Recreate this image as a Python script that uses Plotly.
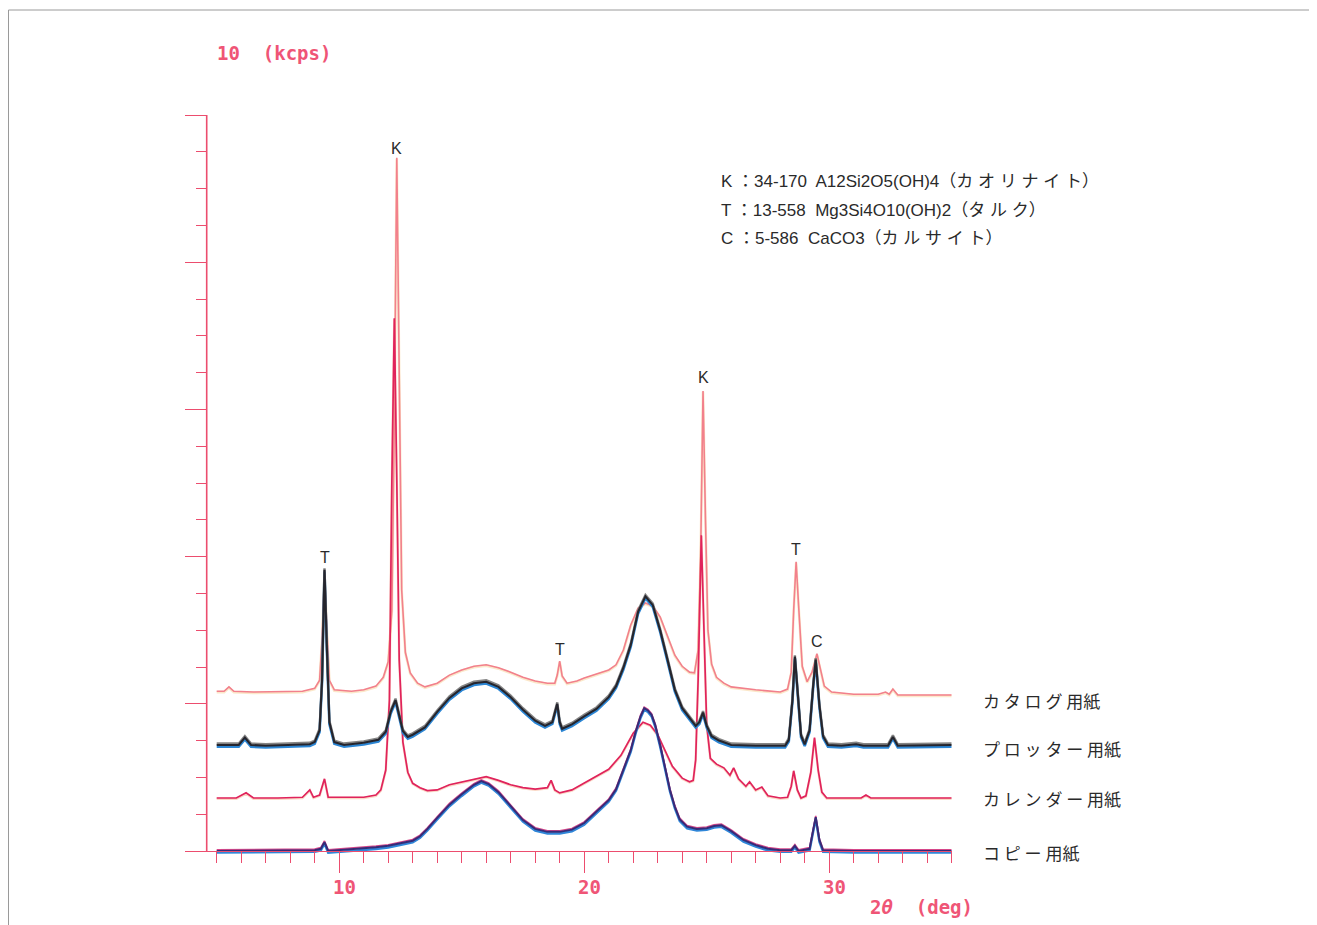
import plotly.graph_objects as go

# page body has an 8px margin in the browser; the figure is sized/placed to compensate
OFF = 8
W, H = 1317 - OFF, 925 - OFF

# ---------------- data: 2θ (deg) and intensity (kcps, as plotted, stacked) ----------------
catalog_x = [5.0, 5.3, 5.5, 5.7, 6.5, 7.5, 8.5, 9.0, 9.2, 9.3,
             9.4, 9.5, 9.6, 9.8, 10.5, 11.0, 11.5, 11.8, 12.0, 12.15,
             12.25, 12.35, 12.45, 12.55, 12.7, 12.9, 13.2, 13.5, 14.0, 14.5,
             15.0, 15.5, 16.0, 16.5, 17.0, 17.5, 18.0, 18.5, 18.8, 18.9,
             19.0, 19.1, 19.3, 19.7, 20.0, 20.5, 21.0, 21.3, 21.6, 21.9,
             22.2, 22.5, 22.8, 23.1, 23.4, 23.7, 24.0, 24.3, 24.5, 24.65,
             24.75, 24.85, 24.95, 25.05, 25.2, 25.4, 25.7, 26.0, 27.0, 28.0,
             28.3, 28.45, 28.55, 28.65, 28.75, 28.9, 29.1, 29.3, 29.5, 29.65,
             29.8, 30.1, 31.0, 32.0, 32.3, 32.45, 32.6, 32.8, 34.0, 35.0]
catalog_y = [2.17, 2.17, 2.23, 2.17, 2.16, 2.17, 2.17, 2.21, 2.32, 2.87,
             3.79, 3.00, 2.32, 2.19, 2.17, 2.19, 2.24, 2.36, 2.57, 3.27,
             5.86, 9.42, 6.40, 3.55, 2.70, 2.42, 2.28, 2.23, 2.28, 2.39,
             2.46, 2.51, 2.53, 2.49, 2.43, 2.36, 2.31, 2.28, 2.28, 2.39,
             2.58, 2.38, 2.28, 2.31, 2.35, 2.40, 2.46, 2.53, 2.73, 3.07,
             3.30, 3.37, 3.33, 3.18, 2.91, 2.66, 2.51, 2.43, 2.42, 2.73,
             3.95, 6.25, 4.50, 3.00, 2.54, 2.36, 2.28, 2.23, 2.19, 2.16,
             2.20, 2.43, 3.27, 3.93, 3.34, 2.51, 2.30, 2.43, 2.68, 2.46,
             2.24, 2.16, 2.13, 2.13, 2.16, 2.13, 2.20, 2.12, 2.12, 2.12]

plotter_x = [5.0, 5.5, 5.9, 6.15, 6.4, 7.0, 8.0, 8.8, 9.0, 9.2,
             9.3, 9.4, 9.5, 9.6, 9.8, 10.2, 11.0, 11.6, 11.9, 12.1,
             12.3, 12.45, 12.6, 12.8, 13.0, 13.5, 14.0, 14.5, 15.0, 15.5,
             16.0, 16.5, 17.0, 17.5, 18.0, 18.4, 18.7, 18.9, 19.0, 19.1,
             19.5, 20.0, 20.5, 21.0, 21.3, 21.6, 21.9, 22.2, 22.5, 22.8,
             23.1, 23.4, 23.7, 24.0, 24.3, 24.55, 24.7, 24.85, 25.0, 25.2,
             25.5, 26.0, 27.0, 28.2, 28.35, 28.5, 28.6, 28.7, 28.85, 29.0,
             29.2, 29.35, 29.45, 29.6, 29.75, 29.95, 30.5, 31.1, 31.4, 32.4,
             32.6, 32.8, 34.0, 35.0]
plotter_y = [1.44, 1.44, 1.44, 1.54, 1.44, 1.43, 1.44, 1.45, 1.48, 1.64,
             2.32, 3.82, 2.73, 1.75, 1.48, 1.44, 1.47, 1.51, 1.62, 1.89,
             2.05, 1.86, 1.63, 1.55, 1.58, 1.68, 1.89, 2.08, 2.21, 2.28,
             2.30, 2.23, 2.09, 1.92, 1.77, 1.70, 1.75, 2.00, 1.75, 1.66,
             1.72, 1.83, 1.93, 2.09, 2.24, 2.49, 2.80, 3.25, 3.46, 3.34,
             3.00, 2.60, 2.19, 1.94, 1.81, 1.70, 1.75, 1.88, 1.70, 1.56,
             1.50, 1.44, 1.43, 1.43, 1.51, 2.05, 2.64, 2.19, 1.57, 1.45,
             1.64, 2.26, 2.60, 1.98, 1.56, 1.44, 1.43, 1.45, 1.43, 1.43,
             1.55, 1.43, 1.44, 1.44]

calendar_x = [5.0, 5.8, 6.2, 6.5, 7.5, 8.5, 8.8, 8.95, 9.2, 9.4,
              9.55, 10.0, 11.0, 11.5, 11.7, 11.9, 12.05, 12.15, 12.25, 12.35,
              12.45, 12.6, 12.8, 13.0, 13.3, 13.6, 14.0, 14.5, 15.0, 15.5,
              16.0, 16.5, 17.0, 17.5, 18.0, 18.5, 18.65, 18.8, 19.0, 19.5,
              20.0, 20.5, 21.0, 21.5, 22.0, 22.4, 22.7, 23.0, 23.3, 23.6,
              24.0, 24.3, 24.45, 24.55, 24.65, 24.78, 24.9, 25.0, 25.15, 25.4,
              25.7, 25.95, 26.1, 26.3, 26.6, 26.75, 27.0, 27.25, 27.5, 28.0,
              28.3, 28.45, 28.55, 28.7, 28.85, 29.05, 29.25, 29.4, 29.55, 29.7,
              29.9, 31.3, 31.5, 31.7, 35.0]
calendar_y = [0.72, 0.72, 0.79, 0.72, 0.72, 0.73, 0.83, 0.73, 0.76, 0.98,
              0.73, 0.73, 0.73, 0.76, 0.83, 1.10, 2.05, 5.04, 7.24, 5.04,
              2.60, 1.48, 1.07, 0.92, 0.86, 0.82, 0.83, 0.90, 0.94, 0.98,
              1.01, 0.96, 0.90, 0.86, 0.84, 0.86, 0.96, 0.83, 0.79, 0.83,
              0.92, 1.02, 1.11, 1.30, 1.60, 1.75, 1.71, 1.58, 1.37, 1.15,
              0.99, 0.94, 0.96, 1.24, 2.32, 4.29, 2.87, 1.71, 1.26, 1.18,
              1.13, 1.03, 1.13, 0.98, 0.88, 0.94, 0.83, 0.87, 0.75, 0.72,
              0.73, 0.88, 1.09, 0.83, 0.72, 0.75, 1.07, 1.54, 1.10, 0.80,
              0.72, 0.72, 0.76, 0.72, 0.72]

copy_x = [5.0, 6.0, 7.0, 8.0, 9.0, 9.25, 9.4, 9.55, 10.0, 10.5,
          11.0, 11.5, 12.0, 12.5, 13.0, 13.3, 13.6, 14.0, 14.5, 15.0,
          15.5, 15.8, 16.1, 16.5, 17.0, 17.5, 18.0, 18.5, 19.0, 19.5,
          20.0, 20.5, 21.0, 21.3, 21.6, 21.9, 22.1, 22.3, 22.45, 22.6,
          22.75, 22.9, 23.1, 23.3, 23.5, 23.7, 23.9, 24.2, 24.6, 25.0,
          25.3, 25.6, 26.0, 26.5, 27.0, 27.5, 28.0, 28.45, 28.6, 28.75,
          29.2, 29.35, 29.45, 29.6, 29.75, 31.0, 35.0]
copy_y = [0.00, 0.00, 0.00, 0.01, 0.01, 0.03, 0.12, 0.00, 0.01, 0.03,
          0.04, 0.05, 0.07, 0.10, 0.14, 0.20, 0.30, 0.45, 0.63, 0.77,
          0.90, 0.95, 0.91, 0.80, 0.61, 0.42, 0.30, 0.26, 0.26, 0.29,
          0.38, 0.53, 0.69, 0.84, 1.10, 1.37, 1.62, 1.83, 1.94, 1.91,
          1.85, 1.71, 1.44, 1.13, 0.83, 0.60, 0.43, 0.33, 0.30, 0.31,
          0.34, 0.35, 0.27, 0.15, 0.08, 0.03, 0.01, 0.01, 0.07, 0.00,
          0.03, 0.29, 0.46, 0.15, 0.01, 0.00, 0.00]

series_names = ["カ タ ロ グ 用紙", "プ ロ ッ タ ー 用紙", "カ レ ン ダ ー 用紙", "コ ピ ー 用紙"]

x_major_ticks = [5, 10, 15, 20, 25, 30, 35]
x_tick_labels = ["", "10", "", "20", "", "30", ""]

peak_labels = ["K", "T", "T", "K", "T", "C"]
peak_pos = [12.35, 9.4, 19.0, 24.85, 28.65, 29.5]
peak_label_y = [9.55, 3.99, 2.74, 6.43, 4.09, 2.85]

legend_lines = [
    "K ：34-170  A12Si2O5(OH)4（カ オ リ ナ イ ト）",
    "T ：13-558  Mg3Si4O10(OH)2（タ ル ク）",
    "C ：5-586  CaCO3（カ ル サ イ ト）",
]

# ---------------- style ----------------
AXIS = "#ec4d6e"
LABEL_PINK = "#ef5576"
TXT = "#2a2a2a"
MONO = "DejaVu Sans Mono"
SANS = "Liberation Sans, Noto Sans CJK JP"
CJK = "Noto Sans CJK JP"


def px(v):
    return (v - OFF) / W


def py(v):
    return 1 - (v - OFF) / H


fig = go.Figure()


def add_curve(x, y, layers):
    for dy, color, width, opacity in layers:
        fig.add_trace(go.Scatter(
            x=x, y=[v + dy for v in y], mode="lines",
            line=dict(color=color, width=width, shape="linear"),
            opacity=opacity, hoverinfo="skip", showlegend=False))


add_curve(catalog_x, catalog_y, [
    (-0.012, "#f9d6a0", 2.6, 0.55),
    (0.0, "#f2808c", 1.6, 1.0),
])
add_curve(calendar_x, calendar_y, [
    (-0.010, "#f7b38e", 2.4, 0.5),
    (0.0, "#e0235c", 1.7, 1.0),
])
add_curve(copy_x, copy_y, [
    (-0.022, "#2f86d8", 2.4, 1.0),
    (0.016, "#d2357e", 1.6, 0.9),
    (0.0, "#352c78", 2.0, 1.0),
])
add_curve(plotter_x, plotter_y, [
    (-0.024, "#2c86d4", 2.6, 1.0),
    (0.020, "#777777", 2.4, 0.9),
    (0.0, "#25252d", 2.1, 1.0),
])

x_left_px, x_right_px = 206.7, 951.7
y0_px, y10_px = 851.0, 115.0
ppk = (y0_px - y10_px) / 10.0
y_min = -0.08

fig.update_layout(
    width=W, height=H, autosize=False,
    margin=dict(l=0, r=0, t=0, b=0),
    paper_bgcolor="white", plot_bgcolor="white",
    showlegend=False,
    xaxis=dict(
        domain=[px(x_left_px), px(x_right_px)],
        range=[5 - (216.7 - x_left_px) / 24.5, 35.0],
        anchor="free", position=py(y0_px),
        showline=True, linecolor=AXIS, linewidth=1.4,
        ticks="outside", tickmode="array", tickvals=x_major_ticks,
        ticktext=x_tick_labels, showticklabels=False,
        ticklen=21, tickwidth=1.3, tickcolor=AXIS,
        minor=dict(ticks="outside", ticklen=11, tickwidth=1.3, tickcolor=AXIS,
                   tickmode="linear", tick0=5, dtick=1, showgrid=False),
        showgrid=False, zeroline=False, fixedrange=True,
    ),
    yaxis=dict(
        domain=[py(y0_px - y_min * ppk), py(y10_px)],
        range=[y_min, 10.0],
        anchor="free", position=px(x_left_px),
        showline=False,
        ticks="outside", tickmode="linear", tick0=0, dtick=2,
        showticklabels=False,
        ticklen=22, tickwidth=1.3, tickcolor=AXIS,
        minor=dict(ticks="outside", ticklen=11, tickwidth=1.3, tickcolor=AXIS,
                   tickmode="linear", tick0=0, dtick=0.5, showgrid=False),
        showgrid=False, zeroline=False, fixedrange=True,
    ),
)

shapes = [
    # y axis line
    dict(type="line", xref="paper", yref="paper",
         x0=px(x_left_px), x1=px(x_left_px), y0=py(y0_px), y1=py(y10_px),
         line=dict(color=AXIS, width=1.6)),
    # page border (scanned sheet)
    dict(type="line", xref="paper", yref="paper", x0=px(8.5), x1=px(1311), y0=py(10), y1=py(10),
         line=dict(color="#9a9a9a", width=1)),
    dict(type="line", xref="paper", yref="paper", x0=px(8.5), x1=px(8.5), y0=py(10), y1=0,
         line=dict(color="#9a9a9a", width=1)),
    dict(type="line", xref="paper", yref="paper", x0=px(1311), x1=px(1311), y0=py(10), y1=0,
         line=dict(color="#9a9a9a", width=1)),
]
fig.update_layout(shapes=shapes)

ann = []
# y-axis unit label
ann.append(dict(text="<b>10  (kcps)</b>", x=px(215), y=py(53), xref="paper", yref="paper",
                xanchor="left", yanchor="middle", showarrow=False,
                font=dict(family=MONO, size=19, color=LABEL_PINK)))
# x tick labels
for v, t in zip(x_major_ticks, x_tick_labels):
    if t:
        ann.append(dict(text="<b>%s</b>" % t, x=v + 0.2, y=py(887), xref="x", yref="paper",
                        xanchor="center", yanchor="middle", showarrow=False,
                        font=dict(family=MONO, size=19, color=LABEL_PINK)))
# x axis title
ann.append(dict(text="<b>2<i>θ</i>  (deg)</b>", x=px(868), y=py(907), xref="paper", yref="paper",
                xanchor="left", yanchor="middle", showarrow=False,
                font=dict(family=MONO, size=19, color=LABEL_PINK)))
# peak labels
for t, xv, yv in zip(peak_labels, peak_pos, peak_label_y):
    ann.append(dict(text=t, x=xv, y=yv, xref="x", yref="y", xanchor="center", yanchor="middle",
                    showarrow=False, font=dict(family=SANS, size=16, color=TXT)))
# legend block
for i, line in enumerate(legend_lines):
    ann.append(dict(text=line, x=px(719), y=py(181 + 29 * i), xref="paper", yref="paper",
                    xanchor="left", yanchor="middle", showarrow=False,
                    font=dict(family=SANS, size=17, color=TXT)))
# series names at the right
for name, ypx in zip(series_names, [700, 748, 798, 852]):
    ann.append(dict(text=name, x=px(981), y=py(ypx), xref="paper", yref="paper",
                    xanchor="left", yanchor="middle", showarrow=False,
                    font=dict(family=CJK, size=17, color=TXT)))
fig.update_layout(annotations=ann)

fig.write_html("out.html")
